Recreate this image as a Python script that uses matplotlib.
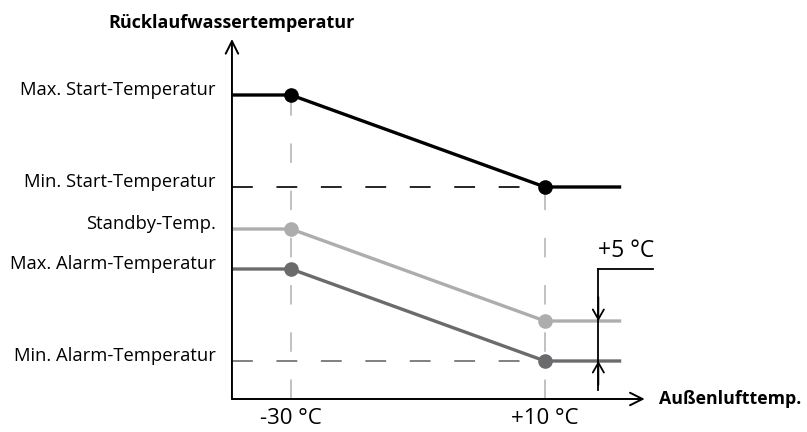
import matplotlib.pyplot as plt

plt.rcParams['font.family'] = ['Open Sans', 'DejaVu Sans']
plt.rcParams['lines.scale_dashes'] = False

# outdoor temperature (x) and return water temperature (y)
x_break = [-30, 10]
x_axis_start = -39.3
x_axis_end = 25.7
x_line_end = 22
x_delta = 18.4
y_axis_start = 10.25
y_axis_end = 55.25

start_temp = [48.25, 36.75]    # max / min start temperature
standby_temp = [31.5, 20.0]
alarm_temp = [26.5, 15.0]      # max / min alarm temperature

left_labels = ["Max. Start-Temperatur", "Min. Start-Temperatur", "Standby-Temp.",
               "Max. Alarm-Temperatur", "Min. Alarm-Temperatur"]
left_values = [start_temp[0], start_temp[1], standby_temp[0], alarm_temp[0], alarm_temp[1]]
tick_labels = ["-30 °C", "+10 °C"]

c_black = "#000000"
c_light = "#adadad"
c_dark = "#6b6b6d"
c_vdash = "#bcbcbc"

fig = plt.figure(figsize=(8.07, 4.32), dpi=100)
ax = fig.add_axes([0, 0, 1, 1])
ax.set_xlim(-75.83, 51.26)
ax.set_ylim(6.125, 60.125)
ax.axis("off")

# vertical dashed guides
ax.plot([x_break[0]] * 2, [y_axis_start, start_temp[0]], color=c_vdash, lw=1.3,
        dashes=(14, 20), zorder=1)
ax.plot([x_break[1]] * 2, [y_axis_start, start_temp[1]], color=c_vdash, lw=1.3,
        dashes=(14, 20), zorder=1)

# horizontal dashed levels
ax.plot([x_axis_start, x_break[1]], [start_temp[1]] * 2, color=c_black, lw=1.2,
        dashes=(15, 17), dash_capstyle="butt", zorder=1)
ax.plot([x_axis_start, x_break[1]], [alarm_temp[1]] * 2, color=c_dark, lw=1.2,
        dashes=(15, 17), zorder=1)

# curves
for vals, col in [(start_temp, c_black), (standby_temp, c_light), (alarm_temp, c_dark)]:
    xs = [x_axis_start, x_break[0], x_break[1], x_line_end]
    ys = [vals[0], vals[0], vals[1], vals[1]]
    ax.plot(xs, ys, color=col, lw=2.4, solid_capstyle="butt", zorder=2)
    ax.plot(x_break, vals, "o", color=col, ms=9.5, zorder=3)

# axes with open arrowheads
arrow = dict(arrowstyle="->,head_length=0.9,head_width=0.45", color="black", lw=1.4,
             shrinkA=0, shrinkB=0)
ax.annotate("", xy=(x_axis_start, y_axis_end), xytext=(x_axis_start, y_axis_start),
            arrowprops=arrow)
ax.annotate("", xy=(x_axis_end, y_axis_start), xytext=(x_axis_start, y_axis_start),
            arrowprops=arrow)

ax.annotate("Rücklaufwassertemperatur", xy=(x_axis_start, y_axis_end),
            xytext=(0, 16), textcoords="offset pixels", ha="center", va="center",
            fontsize=13, fontweight="bold")
ax.annotate("Außenlufttemp.", xy=(x_axis_end, y_axis_start),
            xytext=(14, 0), textcoords="offset pixels", ha="left", va="center",
            fontsize=12.8, fontweight="bold")

for lab, v in zip(left_labels, left_values):
    ax.annotate(lab, xy=(x_axis_start, v), xytext=(-16, 5), textcoords="offset pixels",
                ha="right", va="center", fontsize=13.2)

for lab, t in zip(tick_labels, x_break):
    ax.annotate(lab, xy=(t, y_axis_start), xytext=(0, -20), textcoords="offset pixels",
                ha="center", va="center", fontsize=16)

# +5 °C difference marker
ax.plot([x_delta, x_delta], [11.4, alarm_temp[0]], color="black", lw=1.3, zorder=4)
ax.plot([x_delta, x_delta + 8.6], [alarm_temp[0]] * 2, color="black", lw=1.3, zorder=4)
small = dict(arrowstyle="->,head_length=0.7,head_width=0.4", color="black", lw=1.3,
             shrinkA=0, shrinkB=0)
ax.annotate("", xy=(x_delta, standby_temp[1]), xytext=(x_delta, standby_temp[1] + 3),
            arrowprops=small, zorder=4)
ax.annotate("", xy=(x_delta, alarm_temp[1]), xytext=(x_delta, alarm_temp[1] - 3),
            arrowprops=small, zorder=4)
ax.annotate("+5 °C", xy=(x_delta + 4.4, alarm_temp[0]), xytext=(0, 18),
            textcoords="offset pixels", ha="center", va="center", fontsize=16.5)

fig.savefig("out.png", dpi=100)
